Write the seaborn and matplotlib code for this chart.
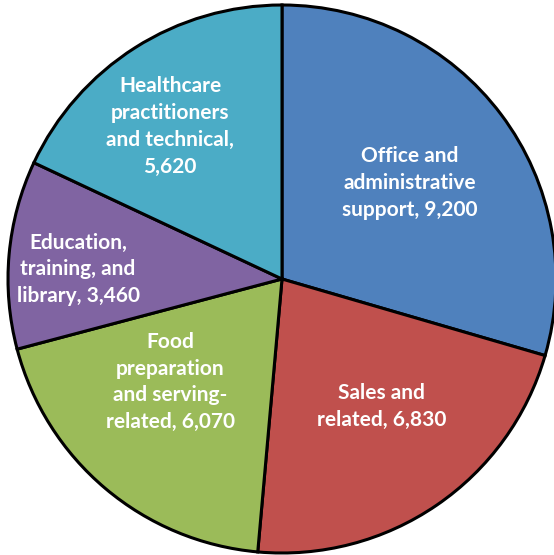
import numpy as np
import matplotlib
matplotlib.use("Agg")
import matplotlib.pyplot as plt
import seaborn as sns

categories = ["Office and\nadministrative\nsupport", "Sales and\nrelated", "Food\npreparation\nand serving-\nrelated",
              "Education,\ntraining, and\nlibrary", "Healthcare\npractitioners\nand technical,\n"]
values = [9200, 6830, 6070, 3460, 5620]
value_labels = ["9,200", "6,830", "6,070", "3,460", "5,620"]

colors = sns.color_palette(["#4F81BD", "#C0504D", "#9BBB59", "#8064A2", "#4BACC6"])
label_radius = [0.584, 0.59, 0.555, 0.745, 0.69]
label_angle_shift = [0.0, 3.8, -7.3, 2.4, 3.8]

sns.set_style("white")
plt.rcParams['font.family'] = ['Lato', 'DejaVu Sans']

fig = plt.figure(figsize=(5.54, 5.55), dpi=100)
ax = fig.add_axes([0, 0, 1, 1])
wedges, _ = ax.pie(values, colors=colors, startangle=90, counterclock=False, radius=1.0,
                   wedgeprops=dict(edgecolor="black", linewidth=2.2))

for w, cat, vl, r, da in zip(wedges, categories, value_labels, label_radius, label_angle_shift):
    mid = np.deg2rad((w.theta1 + w.theta2) / 2 + da)
    lines = cat.split("\n")
    if lines[-1] == "":
        lines[-1] = vl
    else:
        lines[-1] = lines[-1] + ", " + vl
    ax.text(r * np.cos(mid), r * np.sin(mid), "\n".join(lines), ha="center", va="center",
            color="white", fontsize=15, fontweight="bold", linespacing=1.42)

ax.set_xlim(-282 / 274, (554 - 282) / 274)
ax.set_ylim(-(555 - 279) / 274, 279 / 274)
ax.set_aspect("equal")
ax.axis("off")
fig.savefig("out.png", dpi=100)
